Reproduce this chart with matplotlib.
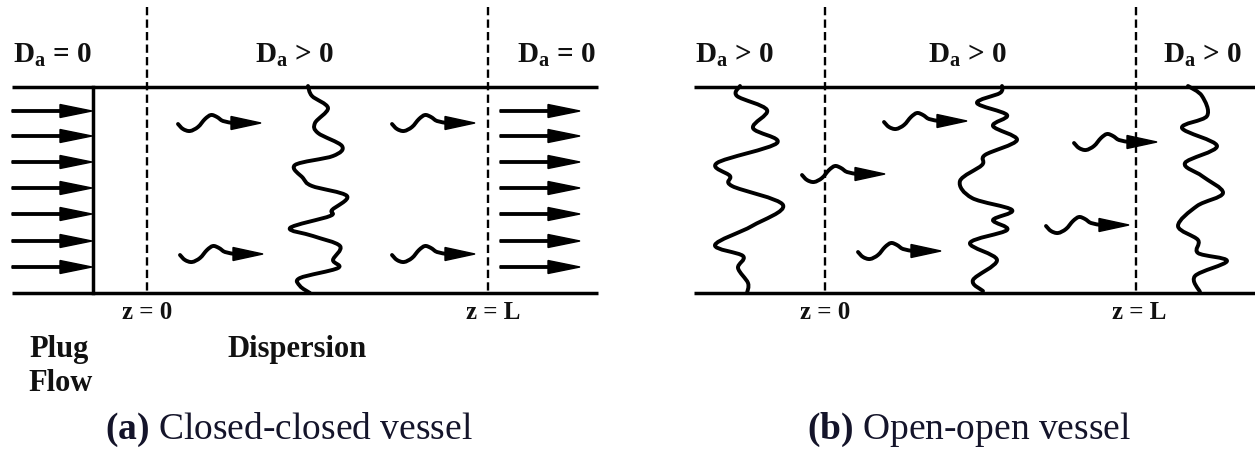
import matplotlib
matplotlib.use("Agg")
import matplotlib.pyplot as plt
from matplotlib.path import Path
from matplotlib.patches import PathPatch

plt.rcParams['font.family'] = ['Liberation Serif', 'DejaVu Serif']
plt.rcParams['mathtext.fontset'] = 'custom'
plt.rcParams['mathtext.rm'] = 'Liberation Serif'
plt.rcParams['mathtext.it'] = 'Liberation Serif'
plt.rcParams['mathtext.bf'] = 'Liberation Serif:bold'

# geometry of the two vessels (pixel space)
wall_top = 88
wall_bot = 294
vessel_a = (12, 598)
vessel_b = (694, 1255)
dash_a = [147, 488]
dash_b = [825, 1136]
plug_x = 93

# plug flow arrows (y positions)
plug_y = [112, 137, 163, 189, 215, 242, 268]
plug_in_x = (12, 92)
plug_out_x = (500, 580)

# squiggle template (relative to start)
sq_dx = [0, 5, 12, 20, 27, 33, 39, 45, 55]
sq_dy = [0, 5, 7, 3, -5, -9, -7, -3, -1]
squig_a = [(178, 125), (180, 256), (392, 125), (392, 256)]
squig_b = [(884, 123), (802, 176), (858, 253), (1074, 144), (1046, 227)]

# dispersion fronts (x, y)
front_a_x = [308, 312, 328, 315, 318, 342, 333, 295, 303, 312, 347, 332, 330, 290, 313,
             340, 333, 338, 300, 300, 310]
front_a_y = [87, 97, 109, 124, 134, 147, 157, 166, 179, 187, 197, 211, 217, 229, 237,
             247, 261, 269, 279, 287, 294]
front_b1_x = [740, 737, 767, 753, 777, 717, 730, 732, 783, 752, 715, 743, 738, 748, 747]
front_b1_y = [87, 97, 111, 129, 144, 164, 177, 187, 206, 227, 246, 257, 269, 284, 294]
front_b2_x = [1002, 1000, 977, 1007, 993, 1017, 985, 982, 960, 972, 1012, 993, 1007, 970,
              997, 973, 983]
front_b2_y = [87, 94, 104, 116, 127, 141, 156, 166, 182, 199, 211, 221, 231, 244, 261,
              281, 292]
front_b3_x = [1188, 1202, 1207, 1182, 1217, 1185, 1202, 1223, 1197, 1178, 1198, 1198, 1227,
              1195, 1200]
front_b3_y = [87, 97, 117, 129, 147, 164, 177, 194, 207, 227, 241, 254, 262, 277, 293]

fig = plt.figure(figsize=(12.55, 4.52), dpi=100)
ax = fig.add_axes([0, 0, 1, 1])
ax.set_xlim(0, 1255)
ax.set_ylim(452, 0)
ax.axis('off')


def smooth(xs, ys, lw=2.8):
    # catmull-rom curve through the read points, as cubic beziers
    pts = list(zip(xs, ys))
    verts = [pts[0]]
    codes = [Path.MOVETO]
    n = len(pts)
    for i in range(n - 1):
        p0 = pts[max(i - 1, 0)]
        p1 = pts[i]
        p2 = pts[i + 1]
        p3 = pts[min(i + 2, n - 1)]
        c1 = (p1[0] + (p2[0] - p0[0]) / 6, p1[1] + (p2[1] - p0[1]) / 6)
        c2 = (p2[0] - (p3[0] - p1[0]) / 6, p2[1] - (p3[1] - p1[1]) / 6)
        verts += [c1, c2, p2]
        codes += [Path.CURVE4] * 3
    ax.add_patch(PathPatch(Path(verts, codes), fill=False, lw=lw, ec='black',
                           capstyle='round', joinstyle='round'))


def squiggle(x0, y0):
    xs = [x0 + d for d in sq_dx]
    ys = [y0 + d for d in sq_dy]
    smooth(xs, ys, lw=2.8)
    ax.arrow(xs[-1] - 2, ys[-1], 30, 0, width=2.6, head_width=13, head_length=30,
             length_includes_head=True, fc='black', ec='black')


# walls
for (x0, x1) in [vessel_a, vessel_b]:
    ax.plot([x0, x1], [wall_top, wall_top], color='black', lw=2.5, solid_capstyle='butt')
    ax.plot([x0, x1], [wall_bot, wall_bot], color='black', lw=2.5, solid_capstyle='butt')

# dashed boundaries
for xd in dash_a + dash_b:
    ax.plot([xd, xd], [8, wall_bot], color='black', lw=1.7, ls=(0, (3.5, 1.8)))

# plug front
ax.plot([plug_x, plug_x], [wall_top, wall_bot], color='black', lw=2.5)

for y in plug_y:
    ax.arrow(plug_in_x[0], y, plug_in_x[1] - plug_in_x[0], 0, width=2.4, head_width=13,
             head_length=32, length_includes_head=True, fc='black', ec='black')
    ax.arrow(plug_out_x[0], y, plug_out_x[1] - plug_out_x[0], 0, width=2.4, head_width=13,
             head_length=32, length_includes_head=True, fc='black', ec='black')

for (x0, y0) in squig_a + squig_b:
    squiggle(x0, y0)

smooth(front_a_x, front_a_y)
smooth(front_b1_x, front_b1_y)
smooth(front_b2_x, front_b2_y)
smooth(front_b3_x, front_b3_y)

# labels
lab = dict(fontsize=21, fontweight='bold', va='center', ha='left', color='#111111')
ax.text(13, 55, r'D$_{\mathbf{a}}$ = 0', **lab)
ax.text(255, 55, r'D$_{\mathbf{a}}$ > 0', **lab)
ax.text(517, 55, r'D$_{\mathbf{a}}$ = 0', **lab)
ax.text(695, 55, r'D$_{\mathbf{a}}$ > 0', **lab)
ax.text(928, 55, r'D$_{\mathbf{a}}$ > 0', **lab)
ax.text(1163, 55, r'D$_{\mathbf{a}}$ > 0', **lab)

small = dict(fontsize=18, fontweight='bold', va='center', ha='left', color='#111111')
ax.text(122, 313, 'z = 0', **small)
ax.text(466, 313, 'z = L', **small)
ax.text(800, 313, 'z = 0', **small)
ax.text(1112, 313, 'z = L', **small)

mid = dict(fontsize=22, fontweight='bold', va='center', ha='left', color='#111111')
ax.text(29, 350, 'Plug', **mid)
ax.text(28, 384, 'Flow', **mid)
ax.text(227, 350, 'Dispersion', **mid)

cap = dict(fontsize=27, va='center', ha='center', color='#14142a')
ax.text(289, 430, r'$\mathbf{(a)}$ Closed-closed vessel', **cap)
ax.text(969, 430, r'$\mathbf{(b)}$ Open-open vessel', **cap)

fig.savefig('out.png', dpi=100, facecolor='white')
